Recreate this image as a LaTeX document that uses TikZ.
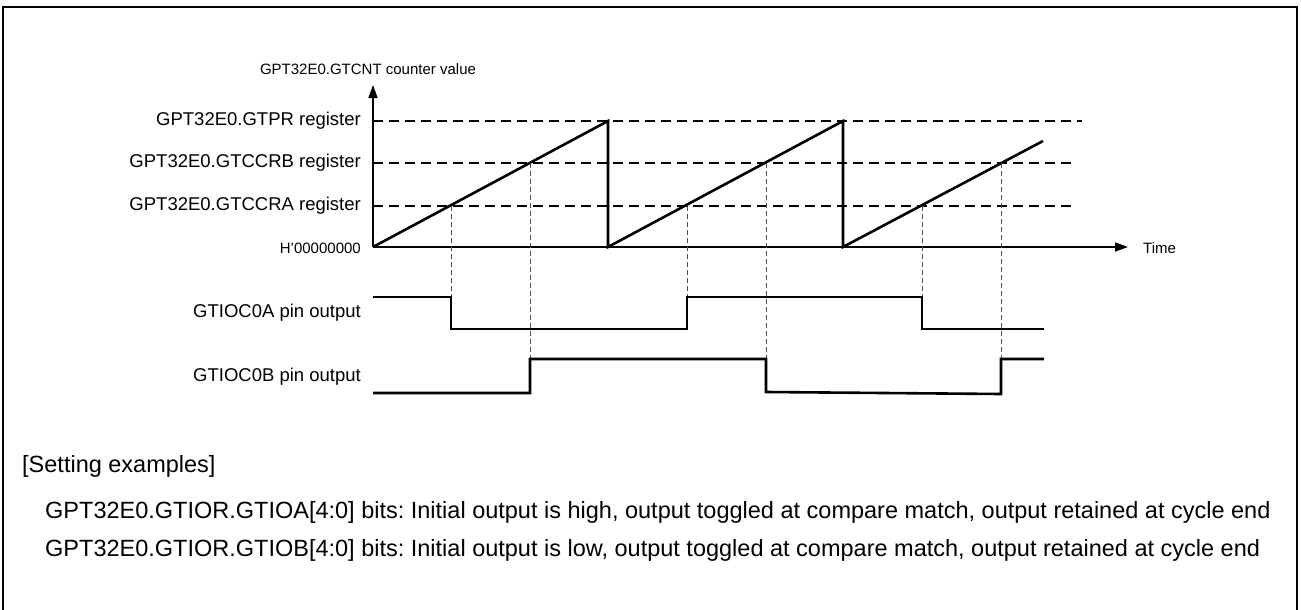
\documentclass[tikz,border=0pt]{standalone}
\usepackage{fontspec}
\setmainfont{Liberation Sans}
\usepackage{tikz}
\usetikzlibrary{arrows.meta}
\frenchspacing

\begin{document}
\begin{tikzpicture}[x=1pt, y=-1pt,
            axis/.style={line width=1.5pt, -{Triangle[length=13pt, width=9pt]}},
            ramp/.style={line width=2.6pt, line join=miter},
            level/.style={line width=1.3pt, dash pattern=on 10pt off 6pt},
            guide/.style={line width=1pt, dash pattern=on 5pt off 3pt, black!70},
            wave/.style={line width=2.6pt, line join=miter},
            reglabel/.style={anchor=east, inner sep=0pt, font=\fontsize{18.5}{22}\selectfont},
            smalllabel/.style={inner sep=0pt, font=\fontsize{15}{18}\selectfont},
            note/.style={anchor=west, inner sep=0pt, font=\fontsize{23.5}{28}\selectfont}]
            \useasboundingbox (0,0) rectangle (1301,610);
            \draw[line width=2pt] (3,7) rectangle (1297,616);
            % axes
            \coordinate (O) at (373,247);
            \coordinate (ytip) at (373,85);
            \coordinate (xtip) at (1128,247);
            \draw[axis] (O) -- (ytip);
            \draw[axis] (O) -- (xtip);
            \node[smalllabel] (ytitle) at (368,69) {GPT32E0.GTCNT counter value};
            \node[smalllabel, anchor=west] (tlabel) at (1143,248) {Time};
            \node[smalllabel, anchor=east] (zero) at (361,248) {H’00000000};
            % register levels
            \foreach \lv/\yy/\xend/\txt in {pr/121/1082/GPT32E0.GTPR register, b/163/1075/GPT32E0.GTCCRB register, a/206/1075/GPT32E0.GTCCRA register}{
                \node[reglabel] (lab-\lv) at (361,\yy) {\txt};
                \coordinate (lvl-\lv-s) at (373,\yy);
                \coordinate (lvl-\lv-e) at (\xend,\yy);
                \draw[level] (lvl-\lv-s) -- (lvl-\lv-e);
            }
            % counter
            \coordinate (p1) at (608,121);
            \coordinate (d1) at (608,247);
            \coordinate (p2) at (843,121);
            \coordinate (d2) at (843,247);
            \coordinate (rend) at (1043,141);
            \draw[ramp] (O) -- (p1) -- (d1) -- (p2) -- (d2) -- (rend);
            % compare matches
            \coordinate (ahi) at (0,297);
            \coordinate (bhi) at (0,359);
            \foreach \c/\xx/\yy/\lvl in {a1/451/206/ahi, b1/530/163/bhi, a2/687/206/ahi, b2/766/163/bhi, a3/922/206/ahi, b3/1001/163/bhi}{
                \coordinate (m\c) at (\xx,\yy);
                \draw[guide] (m\c) -- (m\c |- \lvl);
            }
            % pin outputs
            \node[reglabel] (pinA) at (361,313) {GTIOC0A pin output};
            \node[reglabel] (pinB) at (361,377) {GTIOC0B pin output};
            \draw[wave] (373,297) -- (451,297) -- (451,329) -- (687,329) -- (687,297) -- (922,297) -- (922,329) -- (1044,329);
            \draw[wave] (373,393) -- (530,393) -- (530,359) -- (766,359) -- (766,392) -- (1001,394) -- (1001,359) -- (1044,359);
            % settings
            \node[note] (settings) at (22,466) {[Setting examples]};
            \node[note] (noteA) at (45,512) {GPT32E0.GTIOR.GTIOA[4:0] bits: Initial output is high, output toggled at compare match, output retained at cycle end};
            \node[note] (noteB) at (45,550) {GPT32E0.GTIOR.GTIOB[4:0] bits: Initial output is low, output toggled at compare match, output retained at cycle end};
        \end{tikzpicture}
\end{document}
